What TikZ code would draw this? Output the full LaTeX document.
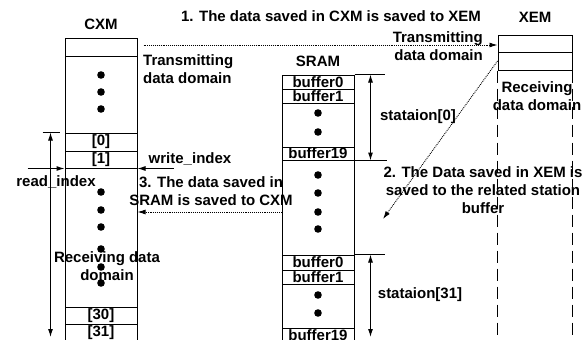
\documentclass[tikz,border=0pt]{standalone}
\usepackage{fontspec}
\setmainfont{Liberation Sans}
\usetikzlibrary{arrows.meta}

\newcommand{\memfont}{\fontsize{15}{18}\selectfont\bfseries}

\begin{document}
\begin{tikzpicture}[x=1pt, y=-1pt, >={Latex[length=8pt,width=5pt]},
    every node/.style={font=\memfont, inner sep=0pt},
    cell/.style={draw, line width=1pt, minimum width=72pt},
    tick/.style={line width=1pt},
    flow/.style={->, densely dotted, line width=0.9pt},
    lane/.style={line width=0.9pt, dash pattern=on 12pt off 6pt}]
  \clip (0,0) rectangle (584,340);
  \coordinate (floor) at (0,343);
  \coordinate (floorarrow) at (0,337);

  % CXM
  \node[anchor=base] (cxm) at (101,30) {CXM};
  \node[cell, minimum height=18pt] (cx0) at (101,47) {};
  \node[cell, minimum height=77pt] (cx1) at (101,94.5) {};
  \node[cell, minimum height=18pt] (cx2) at (101,142) {[0]};
  \node[cell, minimum height=17pt] (cx3) at (101,159.5) {[1]};
  \node[cell, minimum height=139pt] (cx4) at (101,237.5) {};
  \node[cell, minimum height=17pt] (cx5) at (101,315.5) {[30]};
  \node[cell, minimum height=18pt] (cx6) at (101,333) {[31]};
  \foreach \y in {75,92,109,192,210,227,249,267,283}
    \fill (101,\y) circle (3.8pt);

  % SRAM
  \node[anchor=base] (sram) at (318,66) {SRAM};
  \node[cell, minimum height=14pt] (sa0) at (318,82) {buffer0};
  \node[cell, minimum height=14pt] (sa1) at (318,96) {buffer1};
  \node[cell, minimum height=44pt] (sa2) at (318,125) {};
  \node[cell, minimum height=13pt] (sa19) at (318,153.5) {buffer19};
  \node[cell, minimum height=95pt] (sgap) at (318,207.5) {};
  \node[cell, minimum height=15pt] (sb0) at (318,262.5) {buffer0};
  \node[cell, minimum height=14pt] (sb1) at (318,277) {buffer1};
  \node[cell, minimum height=44pt] (sb2) at (318,306) {};
  \node[cell, minimum height=14pt] (sb19) at (318,335) {buffer19};
  \foreach \y in {113,132,175,193,212,229,295,313}
    \fill (318,\y) circle (3.8pt);

  % XEM
  \node[anchor=base] (xem) at (535,23) {XEM};
  \node[cell, minimum width=74pt, minimum height=17pt] (xa) at (535,43.5) {};
  \node[cell, minimum width=74pt, minimum height=18pt] (xb) at (535,61) {};
  \draw[lane] (xb.south west) -- (xb.south west |- floor);
  \draw[lane] (xb.south east) -- (xb.south east |- floor);

  % domains and indices
  \node[anchor=north west, align=left] (cxtx) at (143,54) {Transmitting\\data domain};
  \node[anchor=north, align=center] (cxrx) at (107,251) {Receiving data\\domain};
  \node[anchor=north east, align=right] (xtx) at (483,31) {Transmitting\\data domain};
  \node[anchor=north, align=center] (xrx) at (537,81) {Receiving\\data domain};
  \draw[tick] ([xshift=-22pt]cx2.north west) -- ([xshift=-5pt]cx2.north west);
  \draw[tick, <->] ([xshift=-14pt]cx2.north west) -- ([xshift=-14pt]cx2.north west |- floorarrow);
  \draw[tick, ->] ([xshift=-37pt]cx3.south west) -- (cx3.south west);
  \draw[tick, ->] ([xshift=36pt]cx3.south east) -- (cx3.south east);
  \node[anchor=base] (rd) at (56,186) {read\_index};
  \node[anchor=base] (wr) at (190,163) {write\_index};

  % stations
  \draw[tick] (sa0.north east) -- ++(30,0);
  \draw[tick] (sa19.south east) -- ++(32,0);
  \draw[tick, <->] ([xshift=16pt]sa0.north east) -- ([xshift=16pt]sa19.south east);
  \node[anchor=base] (st0) at (418,120) {stataion[0]};
  \draw[tick] (sb0.north east) -- ++(30,0);
  \draw[tick, <->] ([xshift=16pt]sb0.north east) -- ([xshift=16pt]sb0.north east |- floorarrow);
  \node[anchor=base] (st31) at (420,298) {stataion[31]};

  % transfers
  \coordinate (c2) at (383,219);
  \draw[flow] ([xshift=6pt,yshift=2pt]cx0.east) -- ([yshift=2pt]cx0.east -| xa.west);
  \node[anchor=base] (t1) at (331,21) {1. The data saved in CXM is saved to XEM};
  \draw[flow] (xb.west) -- (c2);
  \node[anchor=north, align=center] (t2) at (483,166) {2. The Data saved in XEM is\\saved to the related station\\buffer};
  \draw[flow] ([yshift=-4.5pt]sgap.west) -- ([yshift=-4.5pt]sgap.west -| cx4.east);
  \node[anchor=north, align=center] (t3) at (211,176) {3. The data saved in\\SRAM is saved to CXM};
\end{tikzpicture}
\end{document}
